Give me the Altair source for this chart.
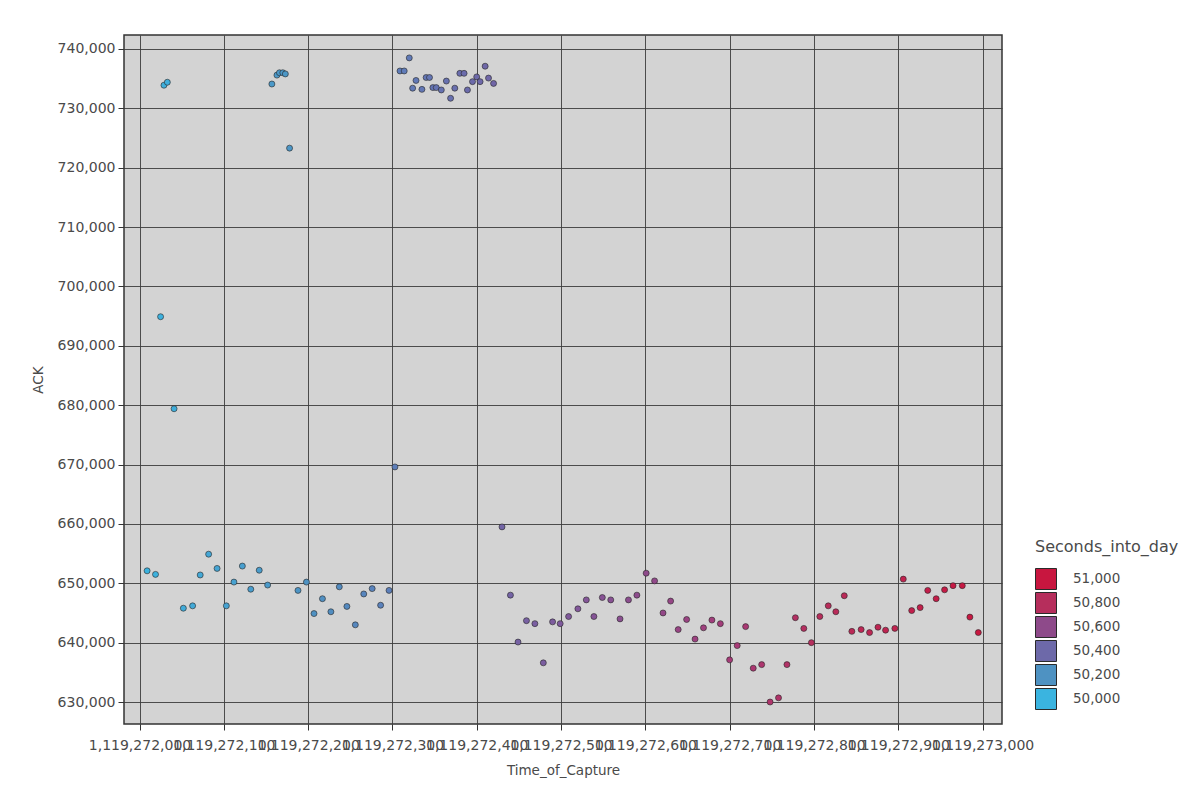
import altair as alt
import pandas as pd

# seconds after 1,119,272,000
time_offset = [
    9, 19, 25, 29, 33, 41, 52, 63, 72, 82, 92, 103, 112, 122, 132, 142, 152,
    157, 163, 166, 170, 173, 178, 188, 198, 207, 217, 227, 237, 246, 256, 266,
    276, 286, 296, 303,
    309, 314, 320, 324, 328, 335, 340, 344, 348, 352, 358, 364, 369, 374, 380,
    385, 389, 395, 400, 404, 410, 414, 420,
    430, 440, 449, 459, 469, 479, 490, 499, 509, 520, 530, 539, 549, 559, 570,
    580, 590, 601, 611, 621, 630, 639, 649, 659, 669, 679, 689, 700, 709, 719,
    728, 738, 748, 758, 768, 778, 788, 797, 807, 817, 826, 836, 845, 856, 866,
    876, 885, 896, 906, 916, 926, 935, 945, 955, 965, 976, 985, 995,
]
ack = [
    652100, 651500, 694900, 733900, 734400, 679400, 645800, 646200, 651400,
    654900, 652500, 646200, 650200, 652900, 649000, 652200, 649700,
    734100, 735600, 736000, 736000, 735800, 723300, 648800, 650200, 644900,
    647400, 645200, 649400, 646100, 643000, 648200, 649100, 646300, 648800,
    669600,
    736300, 736300, 738500, 733400, 734700, 733200, 735200, 735200, 733500,
    733500, 733100, 734600, 731700, 733400, 735900, 735900, 733100, 734500,
    735300, 734500, 737100, 735100, 734200,
    659500, 648000, 640100, 643700, 643200, 636600, 643500, 643200, 644400,
    645700, 647200, 644400, 647600, 647200, 644000, 647200, 648000, 651700,
    650400, 645000, 647000, 642200, 643900, 640600, 642500, 643800, 643200,
    637100, 639500, 642700, 635700, 636300, 630000, 630700, 636300, 644200,
    642400, 640000, 644400, 646200, 645200, 647900, 641900, 642200, 641700,
    642600, 642100, 642400, 650700, 645400, 645900, 648800, 647400, 648900,
    649600, 649600, 644300, 641700,
]

base_time = 1119272000
day_start = 1119222000  # so that base_time is 50,000 seconds into the day

x_ticks = [base_time + 100 * k for k in range(11)]
y_ticks = [630000 + 10000 * k for k in range(12)]
legend_values = [51000, 50800, 50600, 50400, 50200, 50000]
legend_colors = ["#3ab4e0", "#4e92c2", "#6d69a9", "#8e4a8a", "#b62e5c", "#c8163f"]

df = pd.DataFrame({
    "Time_of_Capture": [base_time + t for t in time_offset],
    "ACK": ack,
})
df["Seconds_into_day"] = df["Time_of_Capture"] - day_start

FONT = "DejaVu Sans"
TXT = "#4a4a4a"

chart = alt.Chart(df).mark_point(
    filled=True, size=36, opacity=1, stroke="#262626", strokeWidth=1, strokeOpacity=0.6
).encode(
    x=alt.X(
        "Time_of_Capture:Q",
        scale=alt.Scale(domain=[base_time - 18.4, base_time + 1023.1], nice=False, zero=False),
        axis=alt.Axis(
            values=x_ticks, format=",d", labelOverlap=False, labelFlush=False,
            labelBound=False, labelPadding=8, title="Time_of_Capture", titlePadding=11,
        ),
    ),
    y=alt.Y(
        "ACK:Q",
        scale=alt.Scale(domain=[626296, 742357], nice=False, zero=False),
        axis=alt.Axis(values=y_ticks, format=",d", labelPadding=3, title="ACK", titlePadding=12),
    ),
    color=alt.Color(
        "Seconds_into_day:Q",
        scale=alt.Scale(domain=sorted(legend_values), range=legend_colors),
        legend=alt.Legend(
            type="symbol", values=legend_values, format=",d", orient="none",
            legendX=911, legendY=504, symbolType="square", symbolSize=441,
            symbolStrokeColor="#2a2a2a", symbolStrokeWidth=1, symbolOpacity=1,
            rowPadding=-8, titlePadding=13, labelOffset=16,
            title="Seconds_into_day",
        ),
    ),
).properties(
    width=878,
    height=689,
    background="white",
    autosize=alt.AutoSizeParams(type="none"),
    padding={"left": 116, "top": 27, "right": 177, "bottom": 68},
).configure_view(
    fill="#d3d3d3", stroke="#333333", strokeWidth=1.5
).configure_axis(
    grid=True, gridColor="#3d3d3d", gridWidth=1, gridOpacity=0.9,
    domain=False, tickColor="#333333", tickSize=6,
    labelFont=FONT, labelFontSize=14, labelColor=TXT,
    titleFont=FONT, titleFontSize=13.5, titleColor=TXT, titleFontWeight="normal",
).configure_legend(
    titleFont=FONT, titleFontSize=16, titleColor=TXT, titleFontWeight="normal",
    labelFont=FONT, labelFontSize=13.5, labelColor=TXT,
)

chart.save("out.html", embed_options={"renderer": "svg", "actions": False})
